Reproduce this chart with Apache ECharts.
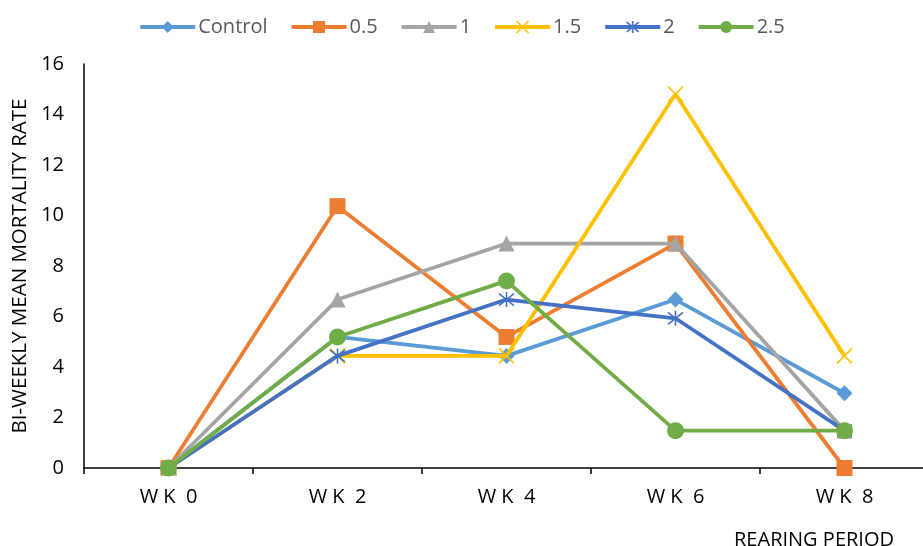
<!DOCTYPE html>
<html>
<head>
<meta charset="utf-8">
<script src="https://cdn.jsdelivr.net/npm/echarts@6/dist/echarts.min.js"></script>
<style>
  html, body { margin: 0; padding: 0; background: #fff; }
  #chart { width: 923px; height: 546px; }
</style>
</head>
<body>
<div id="chart"></div>
<script>
  // categories and values
  const weeks = ['W K  0', 'W K  2', 'W K  4', 'W K  6', 'W K  8']
  const seriesNames = ['Control', '0.5', '1', '1.5', '2', '2.5']
  const control = [0, 5.19, 4.44, 6.67, 2.96]
  const dose05 = [0, 10.37, 5.19, 8.89, 0]
  const dose1 = [0, 6.67, 8.89, 8.89, 1.48]
  const dose15 = [0, 4.44, 4.44, 14.81, 4.44]
  const dose2 = [0, 4.44, 6.67, 5.93, 1.48]
  const dose25 = [0, 5.19, 7.41, 1.48, 1.48]
  const yTicks = [0, 2, 4, 6, 8, 10, 12, 14, 16]

  const colors = ['#5B9BD5', '#ED7D31', '#A5A5A5', '#FFC000', '#4472C4', '#70AD47']
  const crossPath = 'path://M0,0L10,10M10,0L0,10'
  const starPath = 'path://M5,0L5,10M1,1L9,9M9,1L1,9'
  const symbols = ['diamond', 'rect', 'triangle', crossPath, starPath, 'circle']
  const sizes = [16, 16, 16, 15, 15, 17]
  const values = [control, dose05, dose1, dose15, dose2, dose25]

  const font = '"Open Sans", "Liberation Sans", sans-serif'

  // x and asterisk markers are drawn as strokes only
  function markStyle (i) {
    if (i === 3 || i === 4) {
      return { color: 'rgba(0,0,0,0)', borderColor: colors[i], borderWidth: 1.6 }
    }
    return { color: colors[i], borderWidth: 0 }
  }

  let series = seriesNames.map((name, i) => ({
    name: name,
    type: 'line',
    data: values[i],
    symbol: symbols[i],
    symbolSize: sizes[i],
    showAllSymbol: true,
    lineStyle: { color: colors[i], width: 3.75 },
    itemStyle: markStyle(i),
    emphasis: { disabled: true },
    z: 2 + i
  }))

  let option = {
    animation: false,
    color: colors,
    legend: {
      top: 12,
      left: 'center',
      itemWidth: 55,
      itemHeight: 15,
      itemGap: 22,
      textStyle: { fontFamily: font, fontSize: 20, color: '#595959', padding: [0, 0, 0, -2] },
      data: seriesNames.map((n, i) => ({
        name: n,
        itemStyle: markStyle(i),
        lineStyle: { color: colors[i], width: 4 }
      }))
    },
    grid: {
      left: 84,
      top: 64,
      width: 845,
      height: 404,
      containLabel: false,
      outerBoundsMode: 'none'
    },
    xAxis: {
      type: 'category',
      data: weeks,
      boundaryGap: true,
      name: 'REARING PERIOD',
      nameLocation: 'end',
      nameGap: -35,
      nameTextStyle: {
        fontFamily: font, fontSize: 20, color: '#000',
        align: 'right', verticalAlign: 'top', padding: [62, 0, 0, 0]
      },
      axisLine: { lineStyle: { color: '#000', width: 1.5 } },
      axisTick: { show: true, length: 6, lineStyle: { color: '#000', width: 1.5 } },
      axisLabel: { fontFamily: font, fontSize: 20, color: '#000', margin: 19 }
    },
    yAxis: {
      type: 'value',
      min: yTicks[0],
      max: yTicks[yTicks.length - 1],
      interval: 2,
      name: 'BI-WEEKLY MEAN MORTALITY RATE',
      nameLocation: 'middle',
      nameGap: 52,
      nameTextStyle: { fontFamily: font, fontSize: 20.5, color: '#000' },
      axisLine: { show: true, lineStyle: { color: '#000', width: 1.5 } },
      axisTick: { show: false },
      splitLine: { show: false },
      axisLabel: { fontFamily: font, fontSize: 20, color: '#000', margin: 20 }
    },
    series: series
  }

  let myChart = echarts.init(document.getElementById('chart'))
  myChart.setOption(option)
</script>
</body>
</html>
